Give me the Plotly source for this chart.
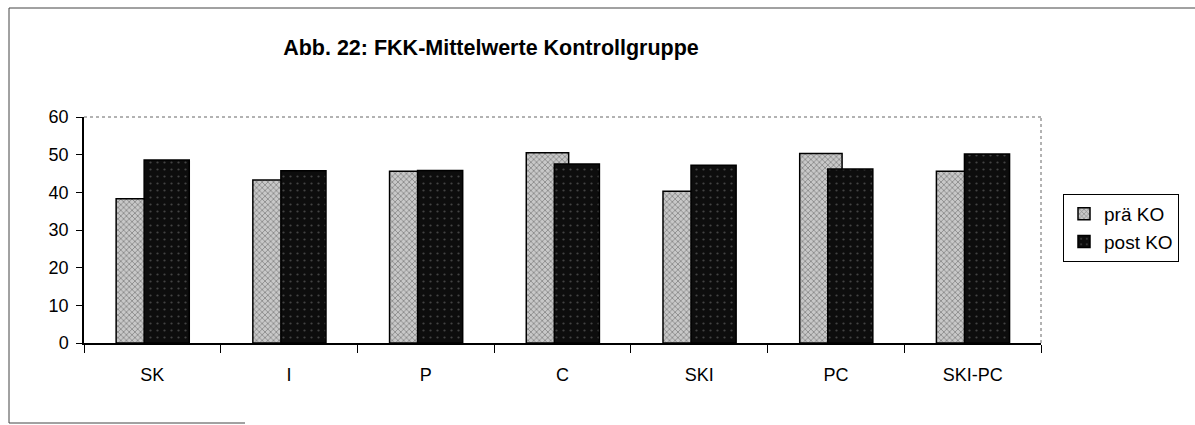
import plotly.graph_objects as go

categories = ["SK", "I", "P", "C", "SKI", "PC", "SKI-PC"]
pre_ko = [38.3, 43.3, 45.6, 50.5, 40.3, 50.3, 45.6]
post_ko = [48.6, 45.7, 45.8, 47.5, 47.2, 46.2, 50.2]
y_ticks = [0, 10, 20, 30, 40, 50, 60]

FONT = "Arial, Liberation Sans, sans-serif"

fig = go.Figure()
fig.add_trace(go.Bar(
    x=categories, y=pre_ko, name="prä KO",
    width=0.31, offset=-0.265,
    marker=dict(color="#c8c8c8", line=dict(color="#000", width=1.5),
                pattern=dict(shape="x", fgcolor="#3a3a3a", size=4, solidity=0.35)),
))
fig.add_trace(go.Bar(
    x=categories, y=post_ko, name="post KO",
    width=0.33, offset=-0.06,
    marker=dict(color="#0d0d0d", line=dict(color="#000", width=1.5),
                pattern=dict(shape=".", fgcolor="#7a7a7a", size=7, solidity=0.08)),
))

W, H = 1195, 425
PX0, PX1, PY0, PY1 = 84, 1041, 117, 343  # plot area in page pixels
pw, ph = PX1 - PX0, PY1 - PY0
fig.update_layout(
    width=W, height=H,
    margin=dict(l=PX0, r=W - PX1, t=PY0, b=H - PY1, autoexpand=False),
    paper_bgcolor="white", plot_bgcolor="white",
    barmode="overlay",
    font=dict(family=FONT, color="#000", size=18),
    title=dict(text="<b>Abb. 22: FKK-Mittelwerte Kontrollgruppe</b>",
               x=491 / W, xanchor="center", xref="container",
               y=1 - 47 / H, yanchor="middle", yref="container",
               font=dict(size=21.5, family=FONT)),
    legend=dict(x=(1063 - PX0) / pw, y=(PY1 - 194) / ph,
                xanchor="left", yanchor="top",
                bordercolor="#000", borderwidth=1, bgcolor="white",
                font=dict(size=19, family=FONT), traceorder="normal",
                itemwidth=30, tracegroupgap=0),
    showlegend=True,
)
fig.update_xaxes(
    showline=True, linecolor="#000", linewidth=1.5,
    ticks="outside", tickson="boundaries", ticklen=8, tickcolor="#000",
    showgrid=False, tickfont=dict(size=18), ticklabelstandoff=15,
)
fig.update_yaxes(
    range=[0, 60], tickvals=y_ticks, showline=True, linecolor="#000", linewidth=1.5,
    ticks="outside", ticklen=6, tickcolor="#000", showgrid=False,
    tickfont=dict(size=18), zeroline=False, ticklabelstandoff=4,
)
# dotted plot area border (top and right)
fig.add_shape(type="line", xref="paper", yref="paper", x0=0, x1=1, y0=1, y1=1,
              line=dict(color="#666", width=1, dash="dot"))
fig.add_shape(type="line", xref="paper", yref="paper", x0=1, x1=1, y0=0, y1=1,
              line=dict(color="#666", width=1, dash="dot"))
# outer chart frame (top, left, partial bottom as in the scan)
fx = lambda px: (px - PX0) / pw
fy = lambda py: (PY1 - py) / ph
frame = dict(color="#444", width=1)
fig.add_shape(type="line", xref="paper", yref="paper", x0=fx(9), x1=fx(1200),
              y0=fy(8), y1=fy(8), line=frame)
fig.add_shape(type="line", xref="paper", yref="paper", x0=fx(9), x1=fx(9),
              y0=fy(8), y1=fy(423), line=frame)
fig.add_shape(type="line", xref="paper", yref="paper", x0=fx(9), x1=fx(245),
              y0=fy(423), y1=fy(423), line=frame)

fig.write_html("out.html", config={"displayModeBar": False},
               post_script="document.body.style.margin='0';")
